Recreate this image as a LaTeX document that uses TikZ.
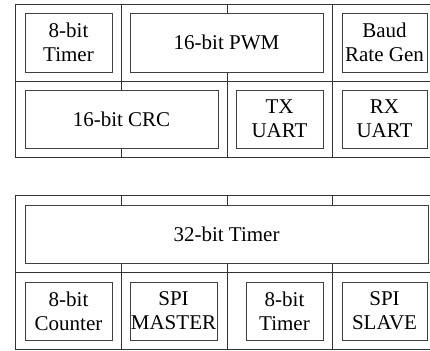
\documentclass[tikz,border=0pt]{standalone}
\usepackage{fontspec}
\setmainfont{Liberation Serif}
\usepackage{tikz}

\tikzset{
	grid/.style={draw=black!80, line width=0.9pt},
	blk/.style={draw=black!75, fill=white, line width=0.7pt, rectangle, inner sep=0pt, align=center, font=\fontsize{21}{24}\selectfont},
}

\begin{document}
\begin{tikzpicture}[x=1pt, y=-1pt]
	\def\xMIN{15};
	\def\xMAX{438};
	\useasboundingbox (0,0) rectangle (430,350);
	
	% frames behind the blocks
	\begin{scope}[grid]
		\foreach \yTOP/\yMID/\yBOT in {4/81/157, 195/272/349} {
			\draw (\xMIN,\yTOP) rectangle (\xMAX,\yBOT);
			\draw (\xMIN,\yMID) -- (\xMAX,\yMID);
			\foreach \x in {121, 227, 332}
				\draw (\x,\yTOP) -- (\x,\yBOT);
		}
	\end{scope}
	
	% upper group
	\node[blk, minimum width=87pt, minimum height=59pt] (timerA) at (68.5,42.5) {8-bit\\Timer};
	\node[blk, minimum width=193pt, minimum height=59pt] (pwm) at (226.5,42.5) {16-bit PWM};
	\node[blk, minimum width=85pt, minimum height=59pt] (baud) at (384.5,42.5) {Baud\\Rate Gen};
	\node[blk, minimum width=193pt, minimum height=58pt] (crc) at (121.5,119) {16-bit CRC};
	\node[blk, minimum width=87pt, minimum height=58pt] (txuart) at (279.5,119) {TX\\UART};
	\node[blk, minimum width=85pt, minimum height=58pt] (rxuart) at (384.5,119) {RX\\UART};
	
	% lower group
	\node[blk, minimum width=403pt, minimum height=58pt] (timer32) at (226.5,234) {32-bit Timer};
	\node[blk, minimum width=87pt, minimum height=58pt] (counter) at (68.5,311) {8-bit\\Counter};
	\node[blk, minimum width=87pt, minimum height=58pt] (spimaster) at (173.5,311) {SPI\\MASTER};
	\node[blk, minimum width=77pt, minimum height=58pt] (timerB) at (284.5,311) {8-bit\\Timer};
	\node[blk, minimum width=85pt, minimum height=58pt] (spislave) at (384.5,311) {SPI\\SLAVE};
\end{tikzpicture}
\end{document}
